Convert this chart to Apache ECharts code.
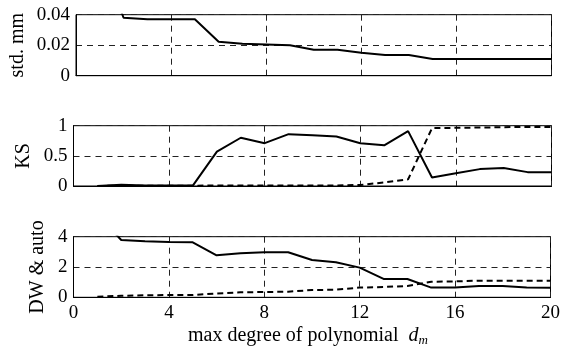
<!DOCTYPE html>
<html>
<head>
<meta charset="utf-8">
<script src="https://cdn.jsdelivr.net/npm/echarts@6/dist/echarts.min.js"></script>
<style>
  html, body { margin: 0; padding: 0; background: #fff; }
  #chart { width: 563px; height: 349px; }
</style>
</head>
<body>
<div id="chart"></div>
<script>
// Polynomial degree d_m = 1..20
const degrees = [1, 2, 3, 4, 5, 6, 7, 8, 9, 10, 11, 12, 13, 14, 15, 16, 17, 18, 19, 20];

// Residual standard deviation (mm)
const stdMm = [0.08, 0.038, 0.037, 0.037, 0.037, 0.0222, 0.021, 0.0205, 0.020, 0.017,
               0.017, 0.0151, 0.0136, 0.0136, 0.011, 0.011, 0.011, 0.011, 0.011, 0.011];

// Kolmogorov–Smirnov results
const ksSolid = [0.0, 0.02, 0.01, 0.01, 0.01, 0.57, 0.80, 0.71, 0.86, 0.84,
                 0.82, 0.71, 0.675, 0.91, 0.14, 0.21, 0.28, 0.30, 0.23, 0.23];
const ksDashed = [0.0, 0.005, 0.005, 0.005, 0.005, 0.008, 0.008, 0.01, 0.01, 0.01,
                  0.01, 0.017, 0.06, 0.11, 0.96, 0.965, 0.97, 0.975, 0.98, 0.98];

// Durbin–Watson statistic and autocorrelation
const dwSolid = [5.5, 3.78, 3.70, 3.65, 3.63, 2.77, 2.90, 2.97, 2.97, 2.46,
                 2.31, 1.96, 1.21, 1.21, 0.64, 0.64, 0.75, 0.75, 0.64, 0.63];
const autoDashed = [0.04, 0.10, 0.13, 0.15, 0.15, 0.25, 0.33, 0.35, 0.37, 0.48,
                    0.50, 0.64, 0.68, 0.75, 1.03, 1.05, 1.10, 1.10, 1.10, 1.10];

// Tick values
const xTicks = [0, 4, 8, 12, 16, 20];
const stdTicks = [0, 0.02, 0.04];
const ksTicks = [0, 0.5, 1];
const dwTicks = [0, 2, 4];

const FONT = '"Liberation Serif", "Times New Roman", serif';
const pairs = (ys) => degrees.map((d, i) => [d, ys[i]]);

const gridDefs = [
  { left: 73.5, top: 14.7, width: 478, height: 61 },
  { left: 73.5, top: 125.7, width: 478, height: 60.3 },
  { left: 73.5, top: 236.7, width: 478, height: 60.6 }
];

const splitStyle = { show: true, lineStyle: { color: '#222', width: 1, type: [6, 5] } };

function xAxis(gi, showLabels) {
  return {
    type: 'value', gridIndex: gi, min: xTicks[0], max: xTicks[xTicks.length - 1], interval: 4,
    axisLine: { show: true, onZero: false, lineStyle: { color: '#000', width: 1 } },
    axisTick: { show: false },
    splitLine: splitStyle,
    axisLabel: { show: showLabels, color: '#000', fontFamily: FONT, fontSize: 19, margin: 6 },
    name: showLabels ? '{t|max degree of polynomial  }{d|d}{m|m}' : '',
    nameLocation: 'middle', nameGap: 27, nameMoveOverlap: false,
    nameTextStyle: {
      padding: [0, 8, 0, 0],
      rich: {
        t: { fontFamily: FONT, fontSize: 20, color: '#000' },
        d: { fontFamily: FONT, fontSize: 20, fontStyle: 'italic', color: '#000' },
        m: { fontFamily: FONT, fontSize: 13, fontStyle: 'italic', color: '#000', verticalAlign: 'bottom', padding: [10, 0, 0, 0] }
      }
    }
  };
}

function yAxis(gi, ticks, name, gap, fmt) {
  return {
    type: 'value', gridIndex: gi, min: ticks[0], max: ticks[ticks.length - 1],
    interval: ticks[1] - ticks[0],
    axisLine: { show: true, onZero: false, lineStyle: { color: '#000', width: 1 } },
    axisTick: { show: false },
    splitLine: splitStyle,
    axisLabel: { color: '#000', fontFamily: FONT, fontSize: 19, margin: 6, formatter: fmt },
    name: name, nameLocation: 'middle', nameGap: gap, nameMoveOverlap: false,
    nameTextStyle: { color: '#000', fontFamily: FONT, fontSize: 20 }
  };
}

function line(xi, ys, dashed) {
  return {
    type: 'line', xAxisIndex: xi, yAxisIndex: xi, data: pairs(ys),
    showSymbol: false, clip: true, animation: false,
    lineStyle: { color: '#000', width: 2, type: dashed ? [6, 4] : 'solid' }
  };
}

const chart = echarts.init(document.getElementById('chart'), null, { renderer: 'canvas' });
chart.setOption({
  backgroundColor: '#fff',
  animation: false,
  grid: gridDefs.map(g => Object.assign({ show: true, borderColor: '#000', borderWidth: 1, backgroundColor: 'transparent' }, g)),
  xAxis: [xAxis(0, false), xAxis(1, false), xAxis(2, true)],
  yAxis: [
    yAxis(0, stdTicks, 'std. mm', 48, v => v === 0 ? '0' : v.toFixed(2)),
    yAxis(1, ksTicks, 'KS', 40, v => String(v)),
    yAxis(2, dwTicks, 'DW & auto', 26, v => String(v))
  ],
  series: [
    line(0, stdMm, false),
    line(1, ksSolid, false),
    line(1, ksDashed, true),
    line(2, dwSolid, false),
    line(2, autoDashed, true)
  ]
});
</script>
</body>
</html>
